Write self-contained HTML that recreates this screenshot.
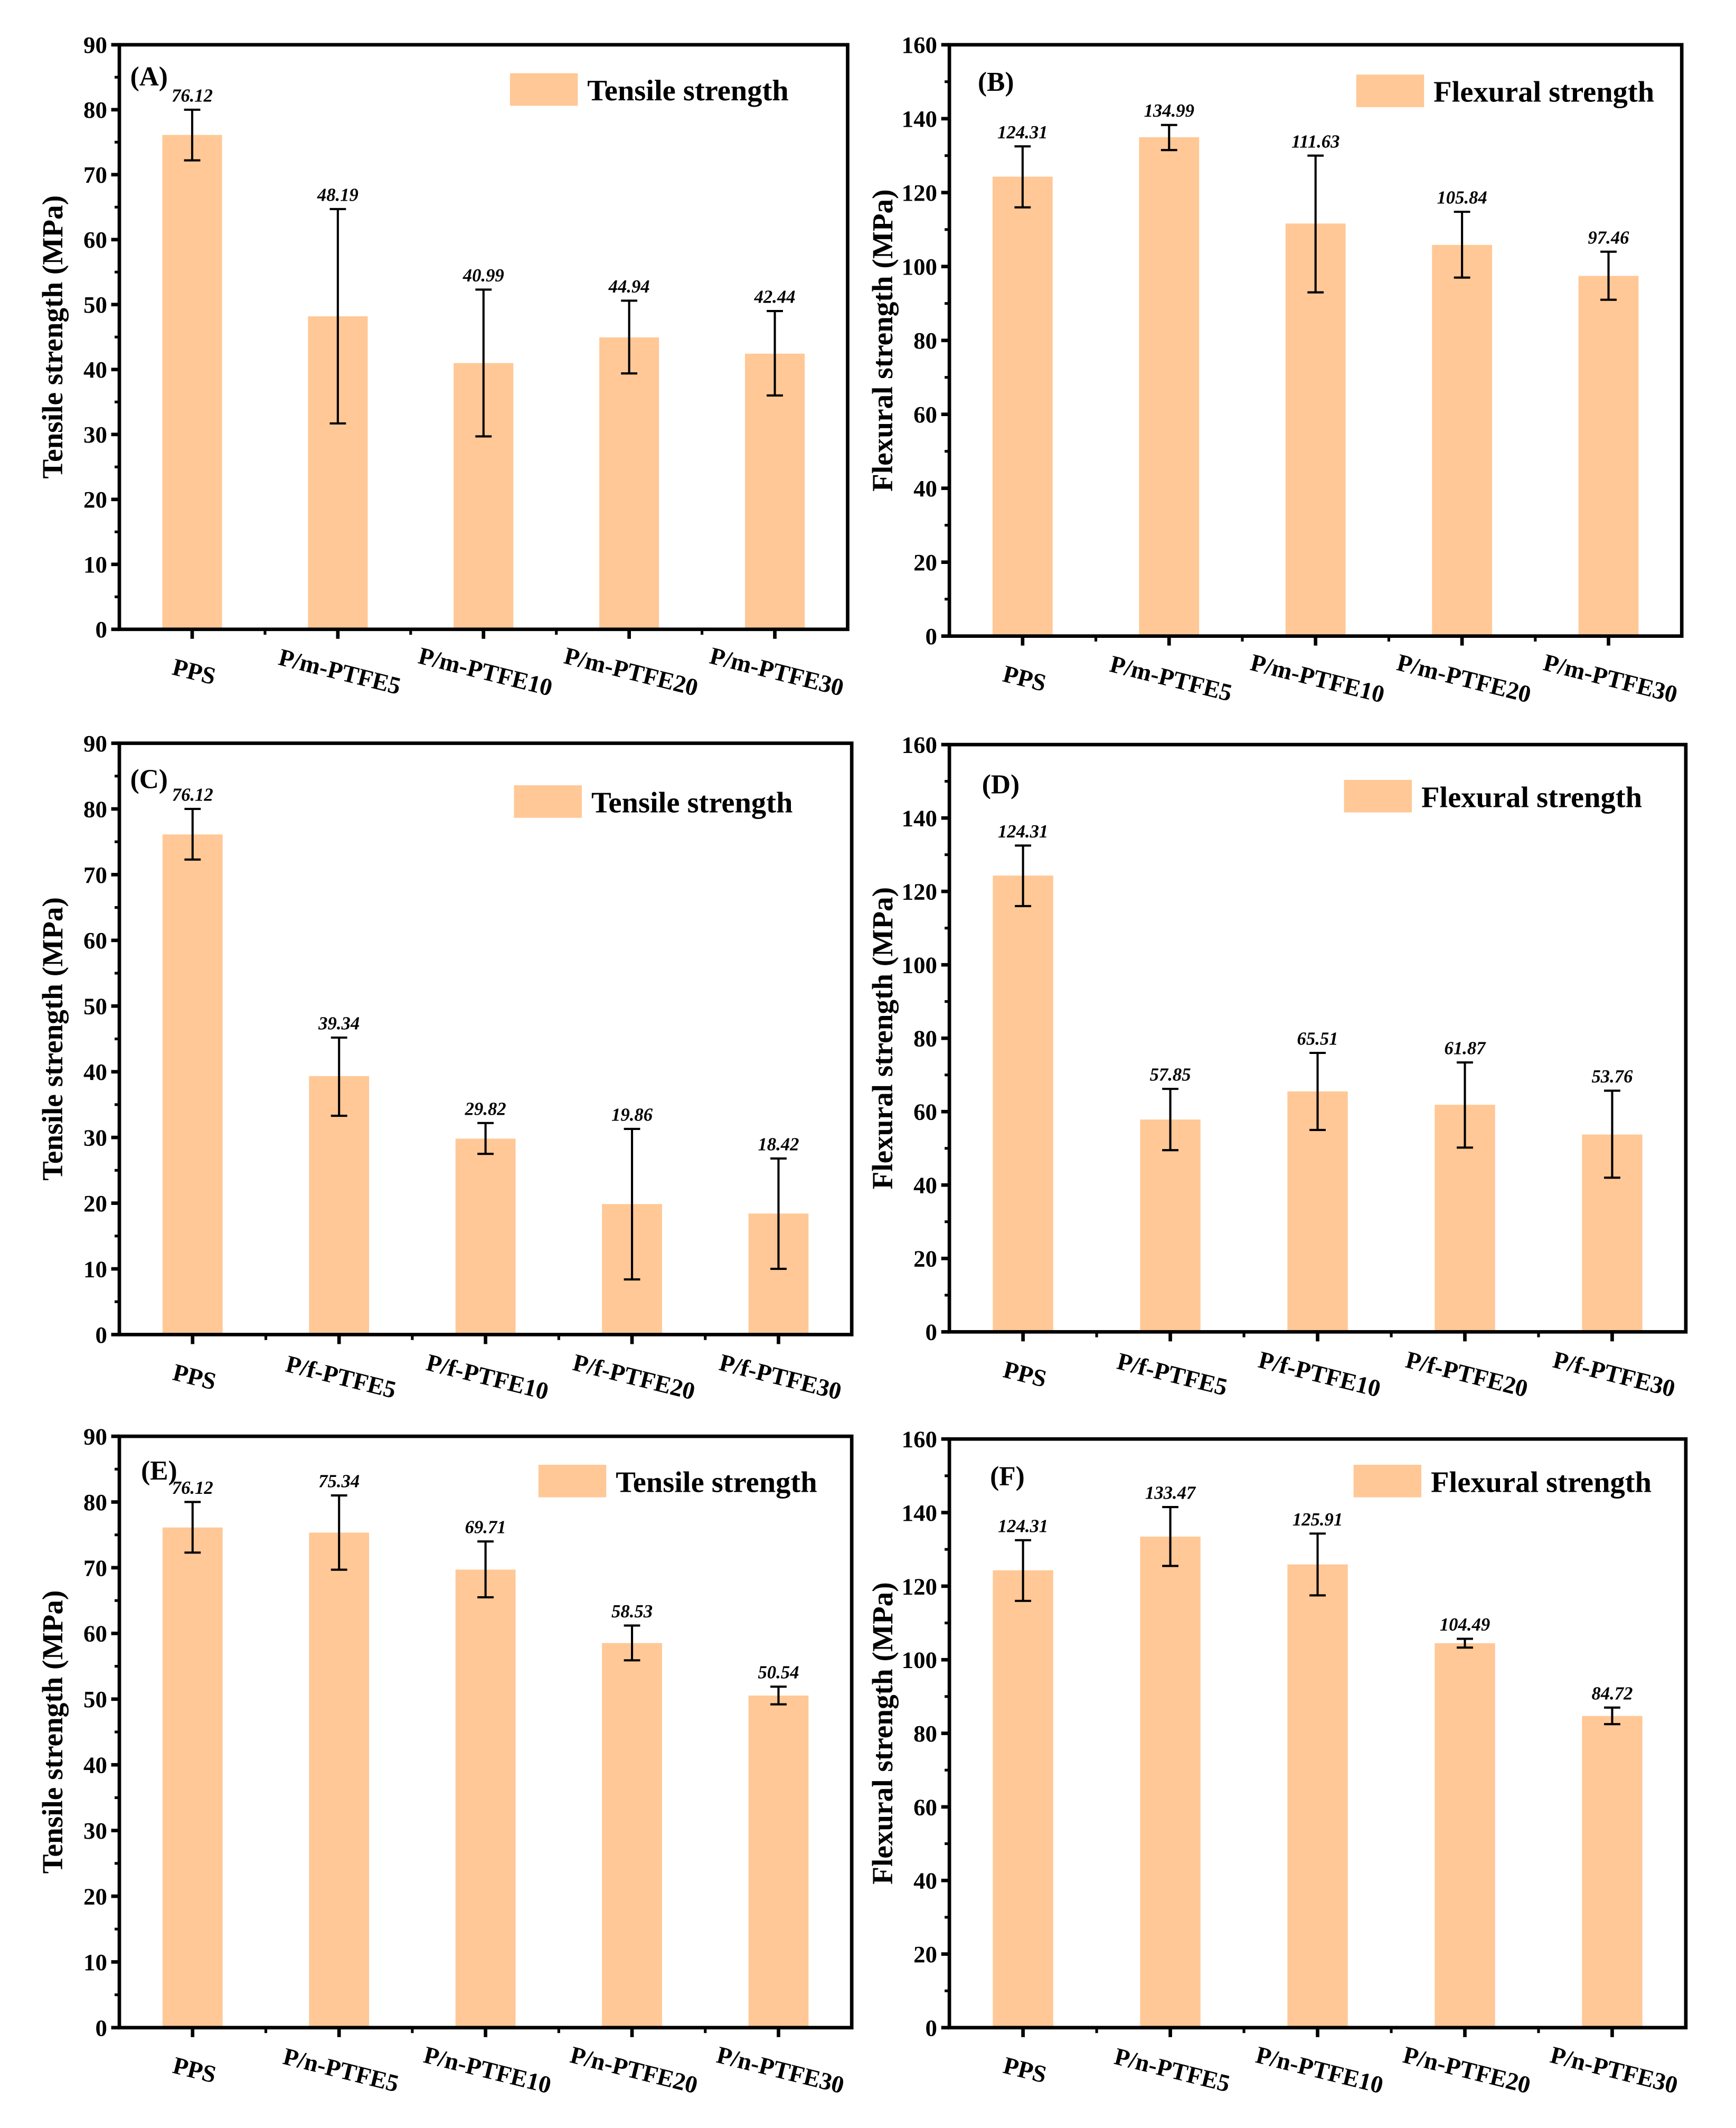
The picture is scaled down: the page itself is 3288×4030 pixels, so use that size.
<!DOCTYPE html>
<html><head><meta charset="utf-8"><style>
html,body{margin:0;padding:0;background:#fff}
svg{display:block}
text{font-family:"Liberation Serif","Times New Roman",serif;font-weight:bold;fill:#000}
</style></head><body>
<svg id="fig" xmlns="http://www.w3.org/2000/svg" width="3288" height="4030" viewBox="0 0 1280 1569" preserveAspectRatio="none"></svg>
<script>
const catsM = ["PPS","P/m-PTFE5","P/m-PTFE10","P/m-PTFE20","P/m-PTFE30"];
const catsF = ["PPS","P/f-PTFE5","P/f-PTFE10","P/f-PTFE20","P/f-PTFE30"];
const catsN = ["PPS","P/n-PTFE5","P/n-PTFE10","P/n-PTFE20","P/n-PTFE30"];
const valsA = [76.12,48.19,40.99,44.94,42.44];
const lowA = [72.2,31.7,29.7,39.4,36.0];
const highA = [80.0,64.7,52.3,50.6,49.0];
const valsB = [124.31,134.99,111.63,105.84,97.46];
const lowB = [116,131.5,93,97,91];
const highB = [132.5,138.3,130,114.8,104];
const valsC = [76.12,39.34,29.82,19.86,18.42];
const lowC = [72.3,33.3,27.5,8.4,10.0];
const highC = [80.0,45.2,32.2,31.3,26.8];
const valsD = [124.31,57.85,65.51,61.87,53.76];
const lowD = [116,49.5,55,50.2,42];
const highD = [132.5,66.2,76,73.4,65.7];
const valsE = [76.12,75.34,69.71,58.53,50.54];
const lowE = [72.3,69.7,65.5,55.9,49.2];
const highE = [80.0,81.0,74.0,61.2,51.9];
const valsF = [124.31,133.47,125.91,104.49,84.72];
const lowF = [116,125.5,117.5,103.3,82.5];
const highF = [132.5,141.5,134.3,105.7,87.0];
const ticksT = [0,10,20,30,40,50,60,70,80,90];
const ticksFl = [0,20,40,60,80,100,120,140,160];

const NS="http://www.w3.org/2000/svg";
const svg=document.getElementById('fig');
function mk(tag,attrs,parent){const e=document.createElementNS(NS,tag);for(const k in attrs)e.setAttribute(k,attrs[k]);(parent||svg).appendChild(e);return e;}

function panel(p){
  const g=mk('g',{});
  
  
  const x0=p.x0,x1=p.x1,y0=p.y0,y1=p.y1;
  const ymax=p.ticks[p.ticks.length-1];
  const ys=v=>y1-(v/ymax)*(y1-y0);
  const band=(x1-x0)/p.cats.length;
  const xs=i=>x0+(i+0.5)*band;
  const bw=band*0.41;
  p.vals.forEach((v,i)=>{
    const r=mk('rect',{x:xs(i)-bw/2,y:ys(v),width:bw,height:y1-ys(v),fill:'#FFC896'},g);
    
    
  });
  p.vals.forEach((v,i)=>{
    const eg=mk('g',{stroke:'#000','stroke-width':1.6},g);
    
    
    const cx=xs(i);
    mk('line',{x1:cx,x2:cx,y1:ys(p.low[i]),y2:ys(p.high[i])},eg);
    mk('line',{x1:cx-6,x2:cx+6,y1:ys(p.low[i]),y2:ys(p.low[i])},eg);
    mk('line',{x1:cx-6,x2:cx+6,y1:ys(p.high[i]),y2:ys(p.high[i])},eg);
    const t=mk('text',{x:cx,y:ys(p.high[i])-6,'text-anchor':'middle','font-size':13.5,'font-style':'italic'},g);
    t.textContent=v.toFixed(2);
    
    
  });
  const fr=mk('rect',{x:x0,y:y0,width:x1-x0,height:y1-y0,fill:'none',stroke:'#000','stroke-width':2.6},g);
  
  
  const step=p.ticks[1]-p.ticks[0];
  p.ticks.forEach((t,k)=>{
    const y=ys(t);
    mk('line',{x1:x0-6,x2:x0,y1:y,y2:y,stroke:'#000','stroke-width':2.6},g);
    if(k<p.ticks.length-1){const ym=ys(t+step/2);mk('line',{x1:x0-3.5,x2:x0,y1:ym,y2:ym,stroke:'#000','stroke-width':2},g);}
    const tl=mk('text',{x:x0-9,y:y+6,'text-anchor':'end','font-size':17.5},g);
    tl.textContent=t;
    
    
  });
  p.cats.forEach((c,i)=>{
    const cx=xs(i);
    mk('line',{x1:cx,x2:cx,y1:y1,y2:y1+7,stroke:'#000','stroke-width':2.6},g);
    if(i>0)mk('line',{x1:x0+i*band,x2:x0+i*band,y1:y1,y2:y1+4,stroke:'#000','stroke-width':2},g);
    const tl=mk('text',{x:0,y:0,'text-anchor':'middle','font-size':18,transform:`translate(${cx},${y1+37}) rotate(14)`},g);
    tl.textContent=c;
    
    
  });
  const yt=mk('text',{x:0,y:0,'text-anchor':'middle','font-size':21.5,transform:`translate(${x0-42},${(y0+y1)/2}) rotate(-90)`},g);
  yt.textContent=p.ytitle;
  
  
  const pl=mk('text',{x:p.lx,y:p.ly,'font-size':20},g);
  pl.textContent='('+p.letter+')';
  
  
  const lg=mk('g',{},g);
  
  
  mk('rect',{x:p.gx,y:p.gy,width:50,height:24,fill:'#FFC896'},lg);
  const lt=mk('text',{x:p.gx+57,y:p.gy+20,'font-size':22},lg);
  lt.textContent=p.legend;
}

panel({letter:'A',x0:88,x1:625,y0:33,y1:464,cats:catsM,vals:valsA,low:lowA,high:highA,ticks:ticksT,ytitle:'Tensile strength (MPa)',legend:'Tensile strength',lx:96,ly:63,gx:376,gy:54});
panel({letter:'B',x0:700,x1:1240,y0:33,y1:469,cats:catsM,vals:valsB,low:lowB,high:highB,ticks:ticksFl,ytitle:'Flexural strength (MPa)',legend:'Flexural strength',lx:721,ly:67,gx:1000,gy:55});
panel({letter:'C',x0:88,x1:628,y0:548,y1:984,cats:catsF,vals:valsC,low:lowC,high:highC,ticks:ticksT,ytitle:'Tensile strength (MPa)',legend:'Tensile strength',lx:96,ly:581,gx:379,gy:579});
panel({letter:'D',x0:700,x1:1243,y0:549,y1:982,cats:catsF,vals:valsD,low:lowD,high:highD,ticks:ticksFl,ytitle:'Flexural strength (MPa)',legend:'Flexural strength',lx:724,ly:585,gx:991,gy:575});
panel({letter:'E',x0:88,x1:628,y0:1059,y1:1495,cats:catsN,vals:valsE,low:lowE,high:highE,ticks:ticksT,ytitle:'Tensile strength (MPa)',legend:'Tensile strength',lx:104,ly:1091,gx:397,gy:1080});
panel({letter:'F',x0:700,x1:1243,y0:1061,y1:1495,cats:catsN,vals:valsF,low:lowF,high:highF,ticks:ticksFl,ytitle:'Flexural strength (MPa)',legend:'Flexural strength',lx:730,ly:1095,gx:998,gy:1080});
</script>
</body></html>
